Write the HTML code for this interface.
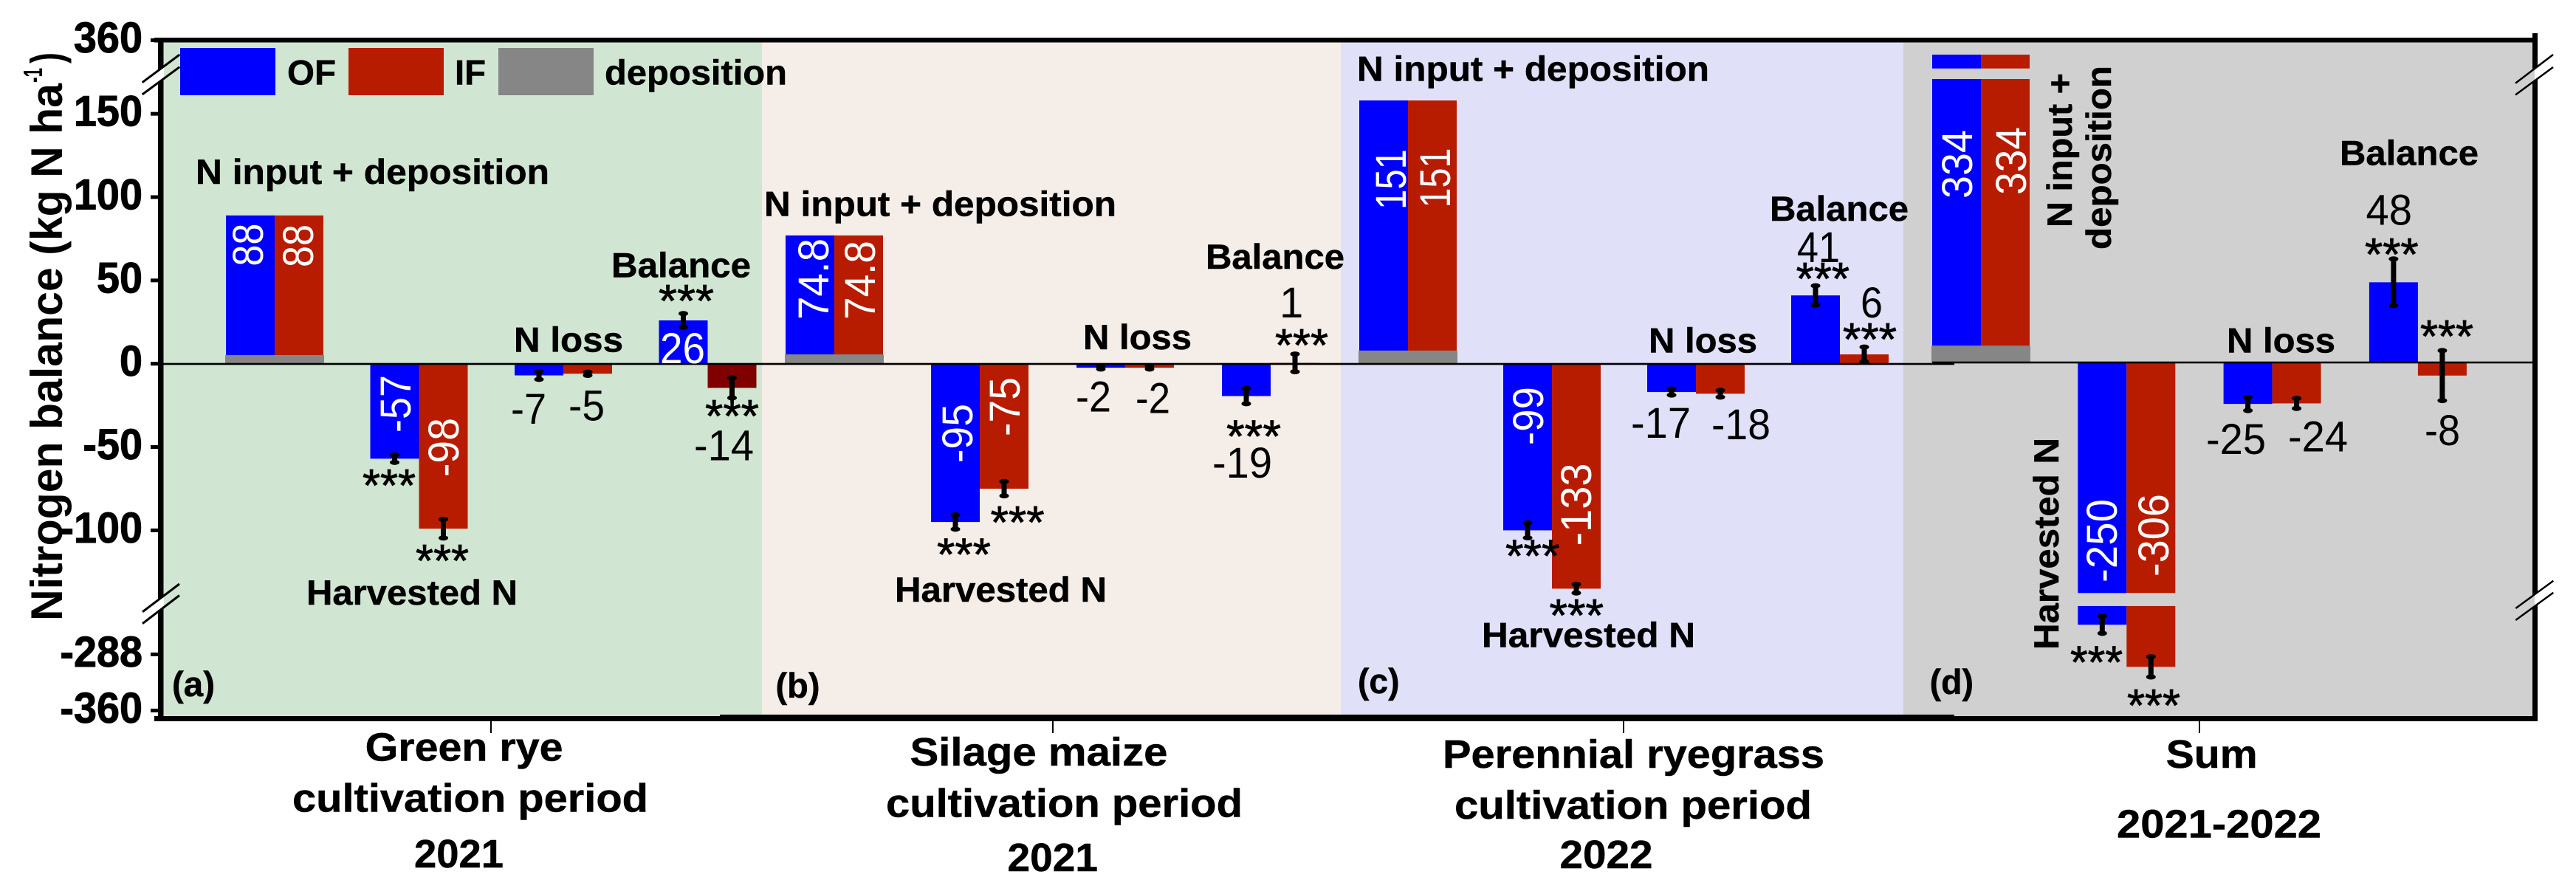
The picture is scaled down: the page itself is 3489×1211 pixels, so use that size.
<!DOCTYPE html>
<html lang="en">
<head>
<meta charset="utf-8">
<title>Nitrogen balance chart</title>
<style>
html,body{margin:0;padding:0;background:#fff;}
svg{display:block;}
text{font-family:"Liberation Sans",Arial,sans-serif;fill:#000;}
.b{font-size:47px;font-weight:700;stroke:#000;stroke-width:0.5px;}
.n{font-size:58px;font-weight:400;}
.s{font-size:62px;font-weight:400;stroke:#000;stroke-width:0.8px;transform:translateY(-5px);}
.w{font-size:58px;font-weight:400;fill:#fff;}
.t{font-size:58px;font-weight:700;text-anchor:end;stroke:#000;stroke-width:1px;}
.x{font-size:54px;font-weight:700;stroke:#000;stroke-width:0.5px;}
.y{font-size:60px;font-weight:700;}
</style>
</head>
<body>
<svg xmlns="http://www.w3.org/2000/svg" width="3489" height="1211" viewBox="0 0 3489 1211">
  <rect x="0" y="0" width="3489" height="1211" fill="#ffffff"/>
  <rect x="221" y="57" width="811" height="913" fill="#d0e6d2"/>
  <rect x="1032" y="57" width="784" height="913" fill="#f5ede7"/>
  <rect x="1816" y="57" width="762" height="913" fill="#e0e0f8"/>
  <rect x="2578" y="57" width="853" height="913" fill="#d0d0d0"/>

  <g id="bars"></g>

  <rect x="221" y="491.7" width="2426" height="2.6" fill="#000"/>
  <rect x="2617" y="489.7" width="814" height="2.6" fill="#000"/>

  <g id="errors"></g>

  <rect x="209" y="51" width="3228" height="6.5" fill="#000"/>
  <rect x="209" y="970" width="3228" height="7" fill="#000"/>
  <rect x="975" y="968" width="1672" height="3" fill="#000"/>
  <rect x="214" y="51" width="7.5" height="926" fill="#000"/>
  <rect x="3430" y="45" width="7" height="932" fill="#000"/>

  <g id="y-ticks"></g>

  <rect x="664" y="976" width="2" height="17" fill="#000"/>
  <rect x="1425" y="976" width="2" height="17" fill="#000"/>
  <rect x="2198" y="976" width="2" height="17" fill="#000"/>
  <rect x="2978" y="976" width="2" height="17" fill="#000"/>

  <g>
    <polygon points="214,95.8 222,89.9 222,106.2 214,112.1" fill="#fff"/>
    <line x1="192.7" y1="111.7" x2="243.3" y2="74" stroke="#000" stroke-width="3"/>
    <line x1="192.7" y1="128" x2="243.3" y2="90.7" stroke="#000" stroke-width="3"/>
    <polygon points="214,813 222,807 222,822.5 214,828.7" fill="#fff"/>
    <line x1="193" y1="828.8" x2="243" y2="791" stroke="#000" stroke-width="3"/>
    <line x1="193" y1="844.7" x2="243" y2="806.5" stroke="#000" stroke-width="3"/>
    <polygon points="3430,95 3433,93 3433,109 3430,111" fill="#d0d0d0"/>
    <polygon points="3433,93 3438,89.5 3438,105.5 3433,109" fill="#fff"/>
    <line x1="3407" y1="112.7" x2="3458" y2="74" stroke="#000" stroke-width="2.5"/>
    <line x1="3407" y1="128.5" x2="3458" y2="91" stroke="#000" stroke-width="2.5"/>
    <polygon points="3430,807.4 3433,805.2 3433,821.2 3430,823.4" fill="#d0d0d0"/>
    <polygon points="3433,805.2 3438,801.6 3438,817.6 3433,821.2" fill="#fff"/>
    <line x1="3407.3" y1="824" x2="3458.3" y2="786.7" stroke="#000" stroke-width="2.5"/>
    <line x1="3407.3" y1="840" x2="3458.3" y2="802.7" stroke="#000" stroke-width="2.5"/>
  </g>

  <g>
    <rect x="244" y="65" width="129" height="64" fill="#0000ff"/>
    <text class="b" x="389" y="114.7" textLength="66" lengthAdjust="spacingAndGlyphs">OF</text>
    <rect x="472" y="65" width="129" height="64" fill="#b81c00"/>
    <text class="b" x="616" y="114.7" textLength="42" lengthAdjust="spacingAndGlyphs">IF</text>
    <rect x="675" y="65" width="129" height="64" fill="#868686"/>
    <text class="b" x="819" y="114.7" textLength="247" lengthAdjust="spacingAndGlyphs">deposition</text>
  </g>

  <g>
    <text class="y" transform="translate(84,841) rotate(-90)" textLength="728" lengthAdjust="spacingAndGlyphs">Nitrogen balance (kg N ha</text>
    <text class="y" style="font-size:36px" transform="translate(57,112) rotate(-90)" textLength="20" lengthAdjust="spacingAndGlyphs">-1</text>
    <text class="y" transform="translate(84,86) rotate(-90)" textLength="15" lengthAdjust="spacingAndGlyphs">)</text>
  </g>

  <!-- panel a annotations -->
  <text class="b" x="265" y="249" textLength="479" lengthAdjust="spacingAndGlyphs">N input + deposition</text>
  <text class="b" x="828" y="375.6" textLength="189" lengthAdjust="spacingAndGlyphs">Balance</text>
  <text class="b" x="696" y="476.5" textLength="148" lengthAdjust="spacingAndGlyphs">N loss</text>
  <text class="b" x="415" y="819" textLength="286" lengthAdjust="spacingAndGlyphs">Harvested N</text>
  <text class="b" x="233" y="943" textLength="58" lengthAdjust="spacingAndGlyphs">(a)</text>
  <text class="s" x="892" y="434" textLength="75" lengthAdjust="spacingAndGlyphs">***</text>
  <text class="s" x="955" y="590" textLength="73" lengthAdjust="spacingAndGlyphs">***</text>
  <text class="s" x="491" y="684" textLength="72" lengthAdjust="spacingAndGlyphs">***</text>
  <text class="s" x="563" y="786" textLength="72" lengthAdjust="spacingAndGlyphs">***</text>
  <text class="n" x="692" y="574" textLength="48" lengthAdjust="spacingAndGlyphs">-7</text>
  <text class="n" x="770" y="569.4" textLength="49" lengthAdjust="spacingAndGlyphs">-5</text>
  <text class="n" x="940" y="623.4" textLength="81" lengthAdjust="spacingAndGlyphs">-14</text>
  <text class="w" transform="translate(356,360.6) rotate(-90)" textLength="58" lengthAdjust="spacingAndGlyphs">88</text>
  <text class="w" transform="translate(424,362) rotate(-90)" textLength="58" lengthAdjust="spacingAndGlyphs">88</text>
  <text class="w" transform="translate(556,586) rotate(-90)" textLength="78" lengthAdjust="spacingAndGlyphs">-57</text>
  <text class="w" transform="translate(621,646) rotate(-90)" textLength="80" lengthAdjust="spacingAndGlyphs">-98</text>
  <text class="w" x="894" y="492" textLength="61" lengthAdjust="spacingAndGlyphs">26</text>

  <!-- panel b annotations -->
  <text class="b" x="1035" y="292.6" textLength="477" lengthAdjust="spacingAndGlyphs">N input + deposition</text>
  <text class="b" x="1633" y="363.8" textLength="188" lengthAdjust="spacingAndGlyphs">Balance</text>
  <text class="b" x="1467" y="473" textLength="147" lengthAdjust="spacingAndGlyphs">N loss</text>
  <text class="b" x="1212" y="815" textLength="287" lengthAdjust="spacingAndGlyphs">Harvested N</text>
  <text class="b" x="1050.5" y="945" textLength="60" lengthAdjust="spacingAndGlyphs">(b)</text>
  <text class="n" x="1733" y="430">1</text>
  <text class="s" x="1727" y="494" textLength="72" lengthAdjust="spacingAndGlyphs">***</text>
  <text class="s" x="1661" y="617.5" textLength="74" lengthAdjust="spacingAndGlyphs">***</text>
  <text class="s" x="1269" y="777.5" textLength="73" lengthAdjust="spacingAndGlyphs">***</text>
  <text class="s" x="1341.6" y="734" textLength="73" lengthAdjust="spacingAndGlyphs">***</text>
  <text class="n" x="1457" y="557.5" textLength="48" lengthAdjust="spacingAndGlyphs">-2</text>
  <text class="n" x="1538" y="559.5" textLength="47" lengthAdjust="spacingAndGlyphs">-2</text>
  <text class="n" x="1642" y="646.8" textLength="81" lengthAdjust="spacingAndGlyphs">-19</text>
  <text class="w" transform="translate(1122,433) rotate(-90)" textLength="110" lengthAdjust="spacingAndGlyphs">74.8</text>
  <text class="w" transform="translate(1185,433) rotate(-90)" textLength="107" lengthAdjust="spacingAndGlyphs">74.8</text>
  <text class="w" transform="translate(1317,627) rotate(-90)" textLength="80" lengthAdjust="spacingAndGlyphs">-95</text>
  <text class="w" transform="translate(1381,591) rotate(-90)" textLength="80" lengthAdjust="spacingAndGlyphs">-75</text>

  <!-- panel c annotations -->
  <text class="b" x="1838" y="109.5" textLength="477" lengthAdjust="spacingAndGlyphs">N input + deposition</text>
  <text class="b" x="2397" y="299" textLength="188" lengthAdjust="spacingAndGlyphs">Balance</text>
  <text class="b" x="2233" y="477.6" textLength="147" lengthAdjust="spacingAndGlyphs">N loss</text>
  <text class="b" x="2007" y="876.7" textLength="289" lengthAdjust="spacingAndGlyphs">Harvested N</text>
  <text class="b" x="1839" y="939" textLength="56.5" lengthAdjust="spacingAndGlyphs">(c)</text>
  <text class="n" x="2434" y="355" textLength="58" lengthAdjust="spacingAndGlyphs">41</text>
  <text class="n" x="2520" y="430" textLength="30" lengthAdjust="spacingAndGlyphs">6</text>
  <text class="s" x="2432.6" y="404" textLength="72.4" lengthAdjust="spacingAndGlyphs">***</text>
  <text class="s" x="2496" y="486" textLength="73" lengthAdjust="spacingAndGlyphs">***</text>
  <text class="s" x="2039" y="779.5" textLength="73.5" lengthAdjust="spacingAndGlyphs">***</text>
  <text class="s" x="2098.5" y="860" textLength="73.5" lengthAdjust="spacingAndGlyphs">***</text>
  <text class="n" x="2209" y="593" textLength="81" lengthAdjust="spacingAndGlyphs">-17</text>
  <text class="n" x="2318" y="595" textLength="80" lengthAdjust="spacingAndGlyphs">-18</text>
  <text class="w" transform="translate(1904,284) rotate(-90)" textLength="82" lengthAdjust="spacingAndGlyphs">151</text>
  <text class="w" transform="translate(1964,281.5) rotate(-90)" textLength="81" lengthAdjust="spacingAndGlyphs">151</text>
  <text class="w" transform="translate(2090,603) rotate(-90)" textLength="79" lengthAdjust="spacingAndGlyphs">-99</text>
  <text class="w" transform="translate(2155,739.5) rotate(-90)" textLength="112" lengthAdjust="spacingAndGlyphs">-133</text>

  <!-- panel d annotations -->
  <text class="b" x="3169" y="223.4" textLength="188" lengthAdjust="spacingAndGlyphs">Balance</text>
  <text class="b" x="3016" y="477.6" textLength="147" lengthAdjust="spacingAndGlyphs">N loss</text>
  <text class="b" transform="translate(2806,308) rotate(-90)" textLength="209" lengthAdjust="spacingAndGlyphs">N input +</text>
  <text class="b" transform="translate(2859,338) rotate(-90)" textLength="249" lengthAdjust="spacingAndGlyphs">deposition</text>
  <text class="b" transform="translate(2788,880) rotate(-90)" textLength="287" lengthAdjust="spacingAndGlyphs">Harvested N</text>
  <text class="b" x="2613.6" y="940" textLength="59.4" lengthAdjust="spacingAndGlyphs">(d)</text>
  <text class="n" x="3204.5" y="304.5" textLength="62.5" lengthAdjust="spacingAndGlyphs">48</text>
  <text class="s" x="3203" y="371" textLength="72.6" lengthAdjust="spacingAndGlyphs">***</text>
  <text class="s" x="3278" y="482" textLength="72" lengthAdjust="spacingAndGlyphs">***</text>
  <text class="s" x="2804" y="923.6" textLength="71" lengthAdjust="spacingAndGlyphs">***</text>
  <text class="s" x="2881" y="982" textLength="72" lengthAdjust="spacingAndGlyphs">***</text>
  <text class="n" x="2988" y="615" textLength="81" lengthAdjust="spacingAndGlyphs">-25</text>
  <text class="n" x="3099" y="611.7" textLength="81" lengthAdjust="spacingAndGlyphs">-24</text>
  <text class="n" x="3284" y="603" textLength="48" lengthAdjust="spacingAndGlyphs">-8</text>
  <text class="w" transform="translate(2671,269) rotate(-90)" textLength="93" lengthAdjust="spacingAndGlyphs">334</text>
  <text class="w" transform="translate(2744,264) rotate(-90)" textLength="92" lengthAdjust="spacingAndGlyphs">334</text>
  <text class="w" transform="translate(2867,789) rotate(-90)" textLength="113" lengthAdjust="spacingAndGlyphs">-250</text>
  <text class="w" transform="translate(2937,781) rotate(-90)" textLength="112" lengthAdjust="spacingAndGlyphs">-306</text>

  <!-- x axis category labels -->
  <text class="x" x="494.6" y="1030.6" textLength="268" lengthAdjust="spacingAndGlyphs">Green rye</text>
  <text class="x" x="396" y="1099.6" textLength="482" lengthAdjust="spacingAndGlyphs">cultivation period</text>
  <text class="x" x="561" y="1174.8" textLength="121" lengthAdjust="spacingAndGlyphs">2021</text>
  <text class="x" x="1232.5" y="1037" textLength="349" lengthAdjust="spacingAndGlyphs">Silage maize</text>
  <text class="x" x="1200" y="1106.6" textLength="483" lengthAdjust="spacingAndGlyphs">cultivation period</text>
  <text class="x" x="1364.5" y="1180" textLength="122.5" lengthAdjust="spacingAndGlyphs">2021</text>
  <text class="x" x="1954" y="1040" textLength="517" lengthAdjust="spacingAndGlyphs">Perennial ryegrass</text>
  <text class="x" x="1970" y="1109" textLength="484" lengthAdjust="spacingAndGlyphs">cultivation period</text>
  <text class="x" x="2112.5" y="1176" textLength="126" lengthAdjust="spacingAndGlyphs">2022</text>
  <text class="x" x="2933.6" y="1040" textLength="124" lengthAdjust="spacingAndGlyphs">Sum</text>
  <text class="x" x="2867" y="1134.7" textLength="277" lengthAdjust="spacingAndGlyphs">2021-2022</text>

<script>
// Order of each 16-value array: N input, Harvested N, N loss, Balance, for panels a, b, c, d.
const categories = ['green-rye', 'silage-maize', 'perennial-ryegrass', 'sum'];
const components = ['n-input', 'harvested-n', 'n-loss', 'balance'];
const ofValues = [89, -57, -7, 26, 77, -95, -2.4, -19.4, 158, -100, -17, 41, 334, -250, -25, 48];
const ifValues = [89, -99, -6, -14.5, 77, -75, -2.4, 0.5, 158, -135, -18, 5.6, 334, -304, -24.7, -8];
const ofErrors = [0, 2.2, 2.4, 4.1, 0, 4.3, 0.8, 4.6, 0, 4.5, 1.8, 5.8, 0, 11, 4, 14];
const ifErrors = [0, 5.6, 1, 6, 0, 4.3, 0.8, 5.3, 0, 2.6, 2, 4.4, 0, 13, 3, 15];
const depositionValues = [5.2, 5.6, 7.9, 10];
const yTickValues = [360, 150, 100, 50, 0, -50, -100, -288, -360];

const SVGNS = 'http://www.w3.org/2000/svg';
const panelStart = [372, 1130, 1907, 2683];
const panelStep = [195.5, 197, 195, 197.3];
const barWidth = 66;

// Piecewise (broken) y axis
const midTop = 170, midBottom = -138.5, upperStart = 309, lowerStart = -226;
function zeroY(panel) { return panel === 3 ? 490.7 : 492.7; }
function yScale(v, panel) {
  if (v > midTop) return 54.5 + (360 - v) * 0.75;
  if (v < midBottom) return 886.4 + (-288 - v) * 1.056;
  return zeroY(panel) - v * 2.257;
}
function xCenter(panel, comp) { return panelStart[panel] + comp * panelStep[panel]; }

function addRect(parent, x, y1, y2, w, fill, name) {
  const r = document.createElementNS(SVGNS, 'rect');
  r.setAttribute('x', x);
  r.setAttribute('y', Math.min(y1, y2));
  r.setAttribute('width', w);
  r.setAttribute('height', Math.abs(y2 - y1));
  r.setAttribute('fill', fill);
  
  
  parent.appendChild(r);
  return r;
}

function drawBar(parent, x, v, panel, fill, name) {
  if (v >= 0) {
    addRect(parent, x, yScale(0, panel), yScale(Math.min(v, midTop), panel), barWidth, fill, name);
    if (v > upperStart) addRect(parent, x, yScale(upperStart, panel), yScale(v, panel), barWidth, fill, name + '-upper');
  } else {
    addRect(parent, x, yScale(0, panel), yScale(Math.max(v, midBottom), panel), barWidth, fill, name);
    if (v < lowerStart) addRect(parent, x, yScale(lowerStart, panel), yScale(v, panel), barWidth, fill, name + '-lower');
  }
}

function drawError(parent, cx, v, err, panel, name) {
  if (!err) return;
  const top = yScale(v + err, panel);
  const bottom = yScale(v - err, panel);
  const g = document.createElementNS(SVGNS, 'g');
  
  
  const ln = document.createElementNS(SVGNS, 'line');
  ln.setAttribute('x1', cx);
  ln.setAttribute('x2', cx);
  ln.setAttribute('y1', top);
  ln.setAttribute('y2', bottom);
  ln.setAttribute('stroke', '#000');
  ln.setAttribute('stroke-width', '7');
  g.appendChild(ln);
  [top, bottom].forEach(function (cy) {
    const c = document.createElementNS(SVGNS, 'ellipse');
    c.setAttribute('cx', cx);
    c.setAttribute('cy', cy);
    c.setAttribute('rx', '6.5');
    c.setAttribute('ry', '3.5');
    c.setAttribute('fill', '#000');
    g.appendChild(c);
  });
  parent.appendChild(g);
}

const barsGroup = document.getElementById('bars');
const errorsGroup = document.getElementById('errors');
categories.forEach(function (cat, p) {
  components.forEach(function (comp, c) {
    const i = p * 4 + c;
    const cx = xCenter(p, c);
    drawBar(barsGroup, cx - barWidth, ofValues[i], p, '#0000ff', cat + '-' + comp + '-of-bar');
    const ifFill = (p === 0 && c === 3) ? '#800000' : '#b81c00';
    drawBar(barsGroup, cx, ifValues[i], p, ifFill, cat + '-' + comp + '-if-bar');
    drawError(errorsGroup, cx - 33, ofValues[i], ofErrors[i], p, cat + '-' + comp + '-of-error');
    drawError(errorsGroup, cx + 33, ifValues[i], ifErrors[i], p, cat + '-' + comp + '-if-error');
  });
  addRect(barsGroup, xCenter(p, 0) - barWidth - 1, yScale(0, p), yScale(depositionValues[p], p), 2 * barWidth + 2, '#868686', cat + '-deposition-bar');
});

const tickGroup = document.getElementById('y-ticks');
yTickValues.forEach(function (v) {
  const y = yScale(v, 0);
  const str = String(v);
  const natural = (str.replace('-', '').length * 0.556 + (v < 0 ? 0.333 : 0)) * 58;
  const tick = document.createElementNS(SVGNS, 'rect');
  tick.setAttribute('x', 204);
  tick.setAttribute('y', y - 2.5);
  tick.setAttribute('width', 11);
  tick.setAttribute('height', 5);
  tick.setAttribute('fill', '#000');
  
  
  tickGroup.appendChild(tick);
  const label = document.createElementNS(SVGNS, 'text');
  label.setAttribute('class', 't');
  label.setAttribute('x', 193);
  label.setAttribute('y', y + 16.5);
  label.setAttribute('textLength', (natural * 0.962).toFixed(1));
  label.setAttribute('lengthAdjust', 'spacingAndGlyphs');
  
  
  label.textContent = str;
  tickGroup.appendChild(label);
});
</script>
</svg>
</body>
</html>
